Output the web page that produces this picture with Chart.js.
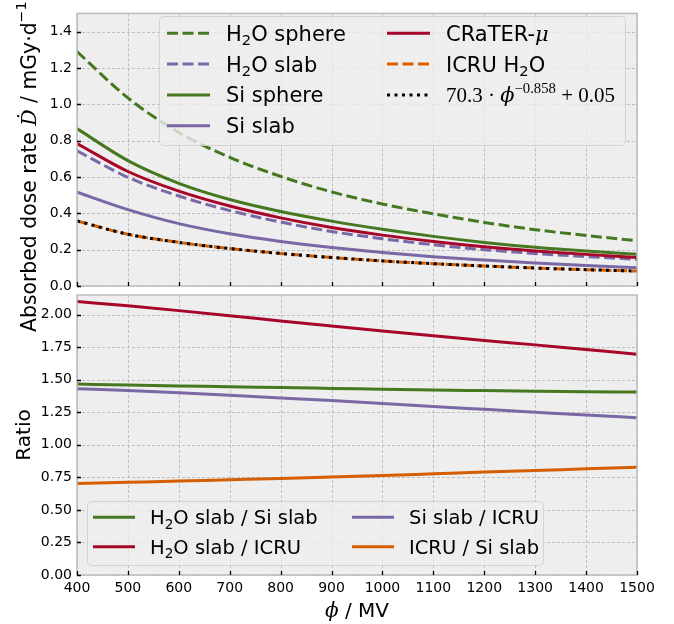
<!DOCTYPE html>
<html>
<head>
<meta charset="utf-8">
<script src="https://cdn.jsdelivr.net/npm/chart.js@4.4.1/dist/chart.umd.min.js"></script>
<style>
  html, body { margin: 0; background: #fff; }
  #wrap { position: relative; width: 674px; height: 624px; }
  #wrap canvas { position: absolute; left: 0; top: 0; }
</style>
</head>
<body>
<div id="wrap">
  <canvas id="dose" width="674" height="624"></canvas>
  <canvas id="ratio" width="674" height="624"></canvas>
</div>
<script>
// cutoff rigidity grid, MV
const PHI = [400, 500, 600, 700, 800, 900, 1000, 1100, 1200, 1300, 1400, 1500];

// absorbed dose rate, mGy/d
const H2O_SPHERE = [1.290, 1.035, 0.845, 0.708, 0.603, 0.518, 0.451, 0.397, 0.350, 0.310, 0.278, 0.249];
const H2O_SLAB   = [0.744, 0.598, 0.495, 0.415, 0.352, 0.300, 0.260, 0.227, 0.200, 0.179, 0.162, 0.147];
const SI_SPHERE  = [0.866, 0.690, 0.565, 0.476, 0.410, 0.357, 0.312, 0.273, 0.240, 0.213, 0.192, 0.175];
const SI_SLAB    = [0.516, 0.420, 0.343, 0.287, 0.245, 0.212, 0.184, 0.161, 0.143, 0.127, 0.113, 0.101];
const CRATER     = [0.784, 0.630, 0.522, 0.440, 0.375, 0.322, 0.280, 0.245, 0.216, 0.193, 0.174, 0.157];
const ICRU_H2O   = [0.358, 0.285, 0.240, 0.206, 0.179, 0.157, 0.138, 0.123, 0.110, 0.099, 0.090, 0.082];
const FIT        = [0.358, 0.285, 0.240, 0.206, 0.179, 0.157, 0.138, 0.123, 0.110, 0.099, 0.090, 0.082];

// ratios
const R_H2O_SI    = [1.466, 1.458, 1.451, 1.446, 1.439, 1.433, 1.427, 1.421, 1.416, 1.411, 1.407, 1.405];
const R_H2O_ICRU  = [2.100, 2.067, 2.030, 1.991, 1.951, 1.912, 1.874, 1.837, 1.801, 1.767, 1.731, 1.695];
const R_SI_ICRU   = [1.430, 1.416, 1.399, 1.380, 1.360, 1.339, 1.317, 1.294, 1.272, 1.250, 1.228, 1.208];
const R_ICRU_SI   = [0.703, 0.712, 0.721, 0.731, 0.741, 0.752, 0.764, 0.777, 0.790, 0.802, 0.815, 0.828];

const GREEN = '#467821', RED = '#A60628', PURPLE = '#7A68A6', ORANGE = '#D55E00';
const SANS = "'DejaVu Sans'";
const DASHED = [11, 4.5];
const DOTTED = [3, 4.5];

const pts = arr => PHI.map((p, i) => ({ x: p, y: arr[i] }));

// tiny markup: _c subscript char, ^{..} superscript, $..$ italic math
function parseRuns(text, size) {
  const runs = [];
  let i = 0, it = false;
  while (i < text.length) {
    const c = text[i];
    if (c === '$') { it = !it; i++; continue; }
    if (c === '_') { runs.push({ t: text[i + 1], s: size * 0.7, dy: size * 0.22, it: false }); i += 2; continue; }
    if (c === '^' && text[i + 1] === '{') {
      const j = text.indexOf('}', i);
      runs.push({ t: text.slice(i + 2, j), s: size * 0.7, dy: -size * 0.45, it: false });
      i = j + 1; continue;
    }
    let j = i;
    while (j < text.length && !'$_^'.includes(text[j])) j++;
    runs.push({ t: text.slice(i, j), s: size, dy: 0, it });
    i = j;
  }
  return runs;
}
const runFont = (r, fam) => r.it ? `italic ${r.s}px 'DejaVu Serif'` : `${r.s}px ${fam}`;
function runsWidth(ctx, runs, fam) {
  let w = 0;
  runs.forEach(r => { ctx.font = runFont(r, fam); w += ctx.measureText(r.t).width; });
  return w;
}
function drawRuns(ctx, runs, x, y, fam) {
  ctx.textAlign = 'left';
  ctx.textBaseline = 'alphabetic';
  runs.forEach(r => {
    ctx.font = runFont(r, fam);
    ctx.fillText(r.t, x, y + r.dy);
    x += ctx.measureText(r.t).width;
  });
}

const LAYOUT = {
  dose: {
    legend: { x: 159, y: 16, w: 466, h: 129, font: 21, rows: 4, rowH: 30.8, first: 33.3, cols: [167, 387], handle: 43, gap: 16 },
    yTitle: { text: 'Absorbed dose rate $Ḋ$ / mGy·d^{−1}', x: 35.5, start: 332, size: 20.4 },
  },
  ratio: {
    legend: { x: 87, y: 501, w: 456, h: 64, font: 19.5, rows: 2, rowH: 29.4, first: 517.3, cols: [93, 352], handle: 42, gap: 15 },
    yTitle: { text: 'Ratio', x: 29.6, center: 435, size: 20 },
    xTitle: { text: '$ϕ$ / MV', y: 616.5 },
  },
};

const axesBox = {
  id: 'axesBox',
  beforeDraw(chart) {
    const { ctx, chartArea: a, scales: { x, y } } = chart;
    ctx.save();
    ctx.fillStyle = '#eeeeee';
    ctx.fillRect(a.left, a.top, a.width, a.height);
    ctx.strokeStyle = '#b2b2b2';
    ctx.lineWidth = 0.8;
    ctx.setLineDash([3, 2]);
    ctx.beginPath();
    x.ticks.forEach(t => {
      const px = Math.round(x.getPixelForValue(t.value)) + 0.5;
      ctx.moveTo(px, a.top); ctx.lineTo(px, a.bottom);
    });
    y.ticks.forEach(t => {
      const py = Math.round(y.getPixelForValue(t.value)) + 0.5;
      ctx.moveTo(a.left, py); ctx.lineTo(a.right, py);
    });
    ctx.stroke();
    ctx.restore();
  },
  afterDraw(chart) {
    const { ctx, chartArea: a, scales: { x, y } } = chart;
    const cfg = LAYOUT[chart.canvas.id];
    ctx.save();

    // legend box inside the axes
    const L = cfg.legend;
    ctx.beginPath();
    ctx.roundRect(L.x + 0.5, L.y + 0.5, L.w, L.h, 4);
    ctx.fillStyle = 'rgba(238,238,238,0.8)';
    ctx.fill();
    ctx.strokeStyle = 'rgba(204,204,204,0.8)';
    ctx.lineWidth = 1;
    ctx.stroke();
    chart.data.datasets.forEach((ds, i) => {
      const col = Math.floor(i / L.rows), row = i % L.rows;
      const x0 = L.cols[col], cy = L.first + row * L.rowH;
      ctx.strokeStyle = ds.borderColor;
      ctx.lineWidth = ds.borderWidth;
      ctx.lineCap = 'butt';
      ctx.setLineDash(ds.borderDash || []);
      ctx.beginPath();
      ctx.moveTo(x0, cy); ctx.lineTo(x0 + L.handle, cy);
      ctx.stroke();
      ctx.setLineDash([]);
      ctx.fillStyle = '#000';
      drawRuns(ctx, parseRuns(ds.label, L.font), x0 + L.handle + L.gap, cy + 0.36 * L.font, ds.labelFamily || SANS);
    });

    // frame
    ctx.strokeStyle = '#bcbcbc';
    ctx.lineWidth = 1.5;
    ctx.strokeRect(a.left, a.top, a.width, a.height);

    // inward tick marks
    ctx.strokeStyle = '#000';
    ctx.lineWidth = 1.3;
    ctx.beginPath();
    x.ticks.forEach(t => {
      const px = Math.round(x.getPixelForValue(t.value)) + 0.5;
      ctx.moveTo(px, a.bottom); ctx.lineTo(px, a.bottom - 4);
    });
    y.ticks.forEach(t => {
      const py = Math.round(y.getPixelForValue(t.value)) + 0.5;
      ctx.moveTo(a.left, py); ctx.lineTo(a.left + 4, py);
    });
    ctx.stroke();

    // axis titles
    ctx.fillStyle = '#000';
    const yt = cfg.yTitle;
    const yRuns = parseRuns(yt.text, yt.size);
    const yw = runsWidth(ctx, yRuns, SANS);
    ctx.save();
    ctx.translate(yt.x, yt.start !== undefined ? yt.start : yt.center + yw / 2);
    ctx.rotate(-Math.PI / 2);
    drawRuns(ctx, yRuns, 0, 0, SANS);
    ctx.restore();
    if (cfg.xTitle) {
      const xRuns = parseRuns(cfg.xTitle.text, 20);
      const xw = runsWidth(ctx, xRuns, SANS);
      drawRuns(ctx, xRuns, (a.left + a.right) / 2 - xw / 2, cfg.xTitle.y, SANS);
    }
    ctx.restore();
  },
};

const line = (label, data, color, dash, order, extra = {}) => Object.assign({
  label, data: pts(data), borderColor: color, borderWidth: 3, borderDash: dash,
  borderCapStyle: 'butt', pointRadius: 0, fill: false, cubicInterpolationMode: 'monotone', order,
}, extra);

const tickFont = { family: 'DejaVu Sans', size: 14 };

function baseOptions(yMax, yStep, decimals, pad, showX) {
  return {
    responsive: false,
    animation: false,
    devicePixelRatio: 1,
    layout: { padding: pad },
    plugins: { legend: { display: false }, tooltip: { enabled: false } },
    scales: {
      x: {
        type: 'linear', min: 400, max: 1500,
        ticks: { display: showX, stepSize: 100, font: tickFont, color: '#000', padding: 5, maxRotation: 0, callback: v => String(v) },
        grid: { display: false, drawTicks: false },
        border: { display: false },
        afterFit: s => { s.height = showX ? 49 : 0; },
      },
      y: {
        min: 0, max: yMax,
        ticks: { stepSize: yStep, includeBounds: false, font: tickFont, color: '#000', padding: 5, callback: v => v.toFixed(decimals) },
        grid: { display: false, drawTicks: false },
        border: { display: false },
        afterFit: s => { s.width = 77; },
      },
    },
  };
}

new Chart(document.getElementById('dose'), {
  type: 'line',
  data: {
    datasets: [
      line('H_2O sphere', H2O_SPHERE, GREEN, DASHED, 7),
      line('H_2O slab', H2O_SLAB, PURPLE, DASHED, 6),
      line('Si sphere', SI_SPHERE, GREEN, [], 5),
      line('Si slab', SI_SLAB, PURPLE, [], 4),
      line('CRaTER-$μ$', CRATER, RED, [], 3),
      line('ICRU H_2O', ICRU_H2O, ORANGE, DASHED, 2),
      line('70.3 · $ϕ$^{−0.858} + 0.05', FIT, '#000', DOTTED, 1, { labelFamily: "'Liberation Serif'" }),
    ],
  },
  options: baseOptions(1.5, 0.2, 1, { left: 0, top: 5, right: 37, bottom: 338 }, false),
  plugins: [axesBox],
});

new Chart(document.getElementById('ratio'), {
  type: 'line',
  data: {
    datasets: [
      line('H_2O slab / Si slab', R_H2O_SI, GREEN, [], 4),
      line('H_2O slab / ICRU', R_H2O_ICRU, RED, [], 3),
      line('Si slab / ICRU', R_SI_ICRU, PURPLE, [], 2),
      line('ICRU / Si slab', R_ICRU_SI, ORANGE, [], 1),
    ],
  },
  options: baseOptions(2.15, 0.25, 2, { left: 0, top: 295, right: 37, bottom: 0 }, true),
  plugins: [axesBox],
});
</script>
</body>
</html>
